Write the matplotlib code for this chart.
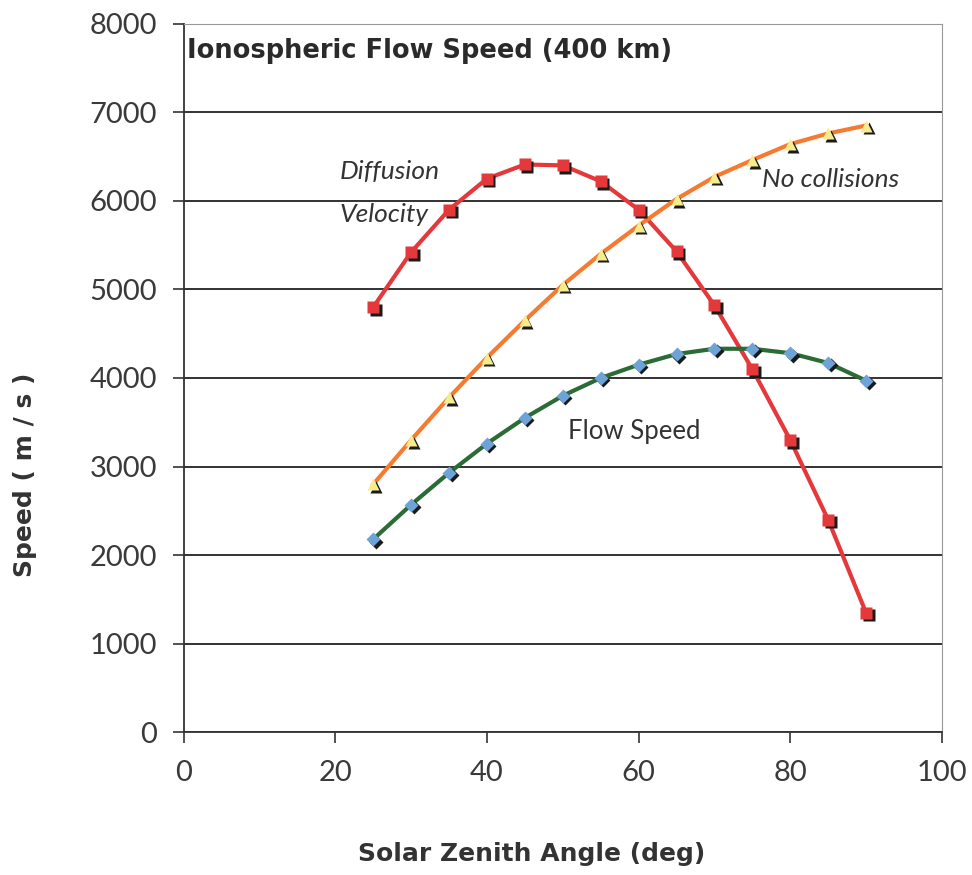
import matplotlib.pyplot as plt
import matplotlib.transforms as mtransforms

# Data
angle = [25, 30, 35, 40, 45, 50, 55, 60, 65, 70, 75, 80, 85, 90]
diffusion = [4800, 5420, 5900, 6250, 6410, 6400, 6220, 5900, 5430, 4820, 4100, 3300, 2400, 1350]
no_collisions = [2800, 3300, 3780, 4230, 4650, 5050, 5400, 5720, 6020, 6270, 6460, 6640, 6760, 6850]
flow_speed = [2180, 2570, 2930, 3260, 3550, 3800, 4000, 4150, 4270, 4330, 4330, 4280, 4170, 3970]

x_ticks = [0, 20, 40, 60, 80, 100]
y_ticks = [0, 1000, 2000, 3000, 4000, 5000, 6000, 7000, 8000]

fig = plt.figure(figsize=(9.72, 8.75), dpi=100)
ax = fig.add_axes([0.189, 0.163, 0.780, 0.810])

# shadow offset for markers
shadow = mtransforms.offset_copy(ax.transData, fig=fig, x=2.5, y=-2.5, units="dots")

series = [
    (diffusion, "#e5383b", "s", "#e5383b", 9),
    (no_collisions, "#f47b2f", "^", "#f6ec8c", 9),
    (flow_speed, "#2b6b35", "D", "#6ea3d8", 7),
]
for vals, lc, mk, mc, ms in series:
    ax.plot(angle, vals, color=lc, lw=3, zorder=3)
    ax.plot(angle, vals, ls="none", marker=mk, ms=ms, color="#1a1a1a",
            mec="none", transform=shadow, zorder=4)
    ax.plot(angle, vals, ls="none", marker=mk, ms=ms, color=mc,
            mec="none", zorder=5)

ax.set_xlim(0, 100)
ax.set_ylim(0, 8000)
ax.set_xticks(x_ticks)
ax.set_yticks(y_ticks)
ax.yaxis.grid(True, color="#222222", lw=1.3)
ax.set_axisbelow(True)

font = ["Lato", "DejaVu Sans"]
for lab in ax.get_xticklabels() + ax.get_yticklabels():
    lab.set_family(font)
    lab.set_fontsize(21)
    lab.set_color("#3a3a3a")
ax.tick_params(axis="x", direction="out", length=8, width=1.2, pad=12, color="#333333")
ax.tick_params(axis="y", direction="out", length=8, width=1.2, pad=11, color="#333333")

ax.spines["left"].set_color("#333333")
ax.spines["bottom"].set_color("#333333")
ax.spines["left"].set_linewidth(1.3)
ax.spines["bottom"].set_linewidth(1.3)
ax.spines["top"].set_color("#999999")
ax.spines["right"].set_color("#999999")

ax.set_xlabel("Solar Zenith Angle (deg)", fontsize=18, fontweight="bold",
              color="#333333")
ax.xaxis.set_label_coords(0.459, -0.155)
ax.set_ylabel("Speed ( m / s )", fontsize=18, fontweight="bold", color="#333333")
ax.yaxis.set_label_coords(-0.193, 0.363)

ax.text(0.5, 7690, "Ionospheric Flow Speed (400 km)", fontsize=18.5, fontweight="bold",
        color="#2a2a2a", va="center", ha="left")

ax.text(20.6, 6335, "Diffusion", fontsize=19, style="italic", family=font,
        color="#333333", va="center")
ax.text(20.6, 5850, "Velocity", fontsize=19, style="italic", family=font,
        color="#333333", va="center")
ax.text(76.3, 6245, "No collisions", fontsize=19, style="italic", family=font,
        color="#333333", va="center")
ax.text(50.7, 3395, "Flow Speed", fontsize=18.5, family=font,
        color="#333333", va="center")

plt.savefig("out.png", dpi=100)
